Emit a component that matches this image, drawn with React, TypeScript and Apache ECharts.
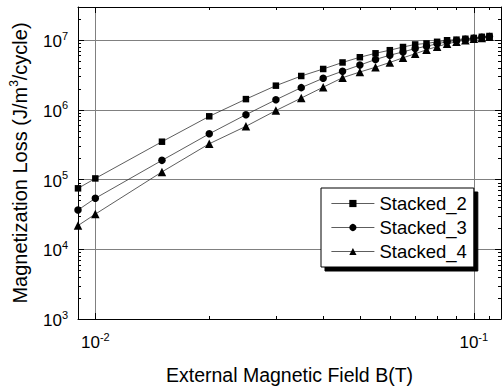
import React, { useEffect, useRef } from "react";
import * as echarts from "echarts";

const bField = [0.009, 0.01, 0.015, 0.02, 0.025, 0.03, 0.035, 0.04, 0.045, 0.05, 0.055, 0.06, 0.065, 0.07, 0.075, 0.08, 0.085, 0.09, 0.095, 0.1, 0.105, 0.11];
const stacked2 = [7.5e4, 1.04e5, 3.5e5, 8.1e5, 1.43e6, 2.23e6, 3.07e6, 3.87e6, 4.8e6, 5.7e6, 6.5e6, 7.2e6, 8.0e6, 8.7e6, 9.0e6, 9.5e6, 1.0e7, 1.02e7, 1.05e7, 1.08e7, 1.12e7, 1.15e7];
const stacked3 = [3.66e4, 5.4e4, 1.89e5, 4.54e5, 8.55e5, 1.4e6, 2.09e6, 2.85e6, 3.6e6, 4.4e6, 5.3e6, 6.1e6, 6.8e6, 7.6e6, 8.2e6, 8.9e6, 9.5e6, 9.9e6, 1.03e7, 1.07e7, 1.1e7, 1.13e7];
const stacked4 = [2.19e4, 3.2e4, 1.29e5, 3.27e5, 5.82e5, 9.8e5, 1.48e6, 2.12e6, 2.9e6, 3.5e6, 4.1e6, 4.8e6, 5.6e6, 6.4e6, 7.3e6, 8.1e6, 8.9e6, 9.5e6, 1.0e7, 1.05e7, 1.08e7, 1.12e7];

const seriesNames = ["Stacked_2", "Stacked_3", "Stacked_4"];
const xMajorTicks = [0.01, 0.1];
const xMinorTicks = [0.02, 0.03, 0.04, 0.05, 0.06, 0.07, 0.08, 0.09, 0.11];
const yMajorTicks = [1e3, 1e4, 1e5, 1e6, 1e7];
const yMinorMultipliers = [2, 3, 4, 5, 6, 7, 8, 9];
const yMinorTicks = [1e3, 1e4, 1e5, 1e6, 1e7]
  .flatMap((d) => yMinorMultipliers.map((m) => m * d))
  .filter((v) => v < 3e7);

const X_MIN = 0.009;
const X_MAX = 0.118;
const Y_MIN = 1e3;
const Y_MAX = 3e7;

const FONT = "'Liberation Sans', Arial, sans-serif";

const powLabel = (v: number) => {
  const e = Math.round(Math.log10(v));
  return `{b|10}{s|${e}}`;
};

const labelRich = {
  b: { fontSize: 17, lineHeight: 20, fontFamily: FONT, color: "#000", verticalAlign: "bottom" },
  s: { fontSize: 11, lineHeight: 10, fontFamily: FONT, color: "#000", verticalAlign: "top" },
};

export default function App() {
  const ref = useRef<HTMLDivElement>(null);
  useEffect(() => {
    if (!ref.current) return;
    const chart = echarts.init(ref.current, null, { renderer: "svg" });
    const axisLine = { show: true, lineStyle: { color: "#000", width: 1 } };
    const base = (pos: string) => ({
      type: "log",
      logBase: 10,
      position: pos,
      gridIndex: 0,
    });
    const xAxes = [
      {
        ...base("bottom"),
        min: X_MIN,
        max: X_MAX,
        axisLine,
        axisTick: { show: true, inside: true, length: 6, customValues: xMajorTicks, lineStyle: { color: "#000" } },
        axisLabel: {
          show: true,
          customValues: xMajorTicks,
          margin: 12,
          formatter: powLabel,
          rich: labelRich,
        },
        splitLine: { show: true, showMinLine: true, showMaxLine: true, lineStyle: { color: "#808080", width: 1 } },
        name: "External Magnetic Field B(T)",
        nameLocation: "middle",
        nameGap: 46,
        nameTextStyle: { fontSize: 19.5, fontFamily: FONT, color: "#000" },
      },
      {
        ...base("bottom"),
        min: X_MIN,
        max: X_MAX,
        axisLine: { show: false },
        axisTick: { show: true, inside: true, length: 3, customValues: xMinorTicks, lineStyle: { color: "#000" } },
        axisLabel: { show: false },
        splitLine: { show: false },
      },
      {
        ...base("top"),
        min: X_MIN,
        max: X_MAX,
        axisLine,
        axisTick: { show: true, inside: true, length: 6, customValues: xMajorTicks, lineStyle: { color: "#000" } },
        axisLabel: { show: false },
        splitLine: { show: false },
      },
      {
        ...base("top"),
        min: X_MIN,
        max: X_MAX,
        axisLine: { show: false },
        axisTick: { show: true, inside: true, length: 3, customValues: xMinorTicks, lineStyle: { color: "#000" } },
        axisLabel: { show: false },
        splitLine: { show: false },
      },
    ];
    const yAxes = [
      {
        ...base("left"),
        min: Y_MIN,
        max: Y_MAX,
        axisLine,
        axisTick: { show: true, inside: true, length: 6, customValues: yMajorTicks, lineStyle: { color: "#000" } },
        axisLabel: {
          show: true,
          customValues: yMajorTicks,
          margin: 10,
          formatter: powLabel,
          rich: labelRich,
        },
        splitLine: { show: true, showMinLine: false, showMaxLine: true, lineStyle: { color: "#808080", width: 1 } },
        name: "{t|Magnetization Loss (J/m}{s|3}{t|/cycle)}",
        nameLocation: "middle",
        nameGap: 48,
        nameTextStyle: {
          rich: {
            t: { fontSize: 20, lineHeight: 22, fontFamily: FONT, color: "#000", verticalAlign: "bottom" },
            s: { fontSize: 12, lineHeight: 12, fontFamily: FONT, color: "#000", verticalAlign: "top" },
          },
        },
      },
      {
        ...base("left"),
        min: Y_MIN,
        max: Y_MAX,
        axisLine: { show: false },
        axisTick: { show: true, inside: true, length: 3, customValues: yMinorTicks, lineStyle: { color: "#000" } },
        axisLabel: { show: false },
        splitLine: { show: false },
      },
      {
        ...base("right"),
        min: Y_MIN,
        max: Y_MAX,
        axisLine,
        axisTick: { show: true, inside: true, length: 6, customValues: yMajorTicks, lineStyle: { color: "#000" } },
        axisLabel: { show: false },
        splitLine: { show: false },
      },
      {
        ...base("right"),
        min: Y_MIN,
        max: Y_MAX,
        axisLine: { show: false },
        axisTick: { show: true, inside: true, length: 3, customValues: yMinorTicks, lineStyle: { color: "#000" } },
        axisLabel: { show: false },
        splitLine: { show: false },
      },
    ];
    const allSeries = [stacked2, stacked3, stacked4];
    const symbols = ["rect", "circle", "triangle"];
    const symbolSizes = [6.5, 7.5, 8.5];
    chart.setOption({
      animation: false,
      backgroundColor: "#fff",
      grid: { left: 76, right: 2, top: 7, bottom: 69, containLabel: false },
      xAxis: xAxes,
      yAxis: yAxes,
      legend: {
        show: true,
        orient: "vertical",
        left: 321,
        top: 188,
        padding: [6, 7, 6, 10],
        itemGap: 5,
        itemWidth: 43,
        itemHeight: 9,
        backgroundColor: "#fff",
        borderColor: "#000",
        borderWidth: 1,
        borderRadius: 0,
        shadowColor: "#000",
        shadowBlur: 0,
        shadowOffsetX: 4,
        shadowOffsetY: 4,
        lineStyle: { width: 0.8, color: "#333" },
        textStyle: { fontSize: 18.5, fontFamily: FONT, color: "#000", lineHeight: 18 },
        data: seriesNames,
      },
      series: allSeries.map((vals, i) => ({
        name: seriesNames[i],
        type: "line",
        xAxisIndex: 0,
        yAxisIndex: 0,
        data: bField.map((x, j) => [x, vals[j]]),
        symbol: symbols[i],
        symbolSize: symbolSizes[i],
        showAllSymbol: true,
        itemStyle: { color: "#000" },
        lineStyle: { color: "#333", width: 0.8 },
        z: 5,
      })),
    });
    return () => chart.dispose();
  }, []);
  return (
    <div
      ref={ref}
      style={{ position: "fixed", left: 0, top: 0, width: 503, height: 390, background: "#fff" }}
    />
  );
}
